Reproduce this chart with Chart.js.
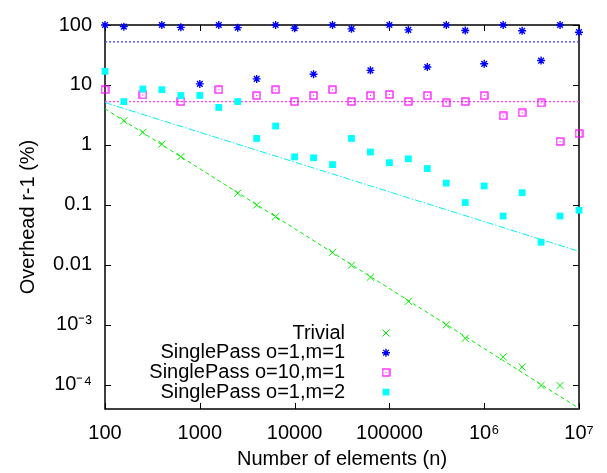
<!DOCTYPE html>
<html>
<head>
<meta charset="utf-8">
<script src="https://cdn.jsdelivr.net/npm/chart.js@4.4.1/dist/chart.umd.min.js"></script>
<style>
  html, body { margin: 0; padding: 0; background: #fff; }
</style>
</head>
<body>
<canvas id="myChart" width="607" height="473"></canvas>
<script>
// x = number of elements, y = overhead r-1 (%)
const seriesNames = ['Trivial', 'SinglePass o=1,m=1', 'SinglePass o=10,m=1', 'SinglePass o=1,m=2'];

const trivialN = [158, 251, 398, 631, 2512, 3981, 6310, 25119, 39811, 63096, 158489, 398107, 630957, 1584893, 2511886, 3981072, 6309573];
const trivialY = [2.53, 1.62, 1.03, 0.637, 0.156, 0.099, 0.0633, 0.0161, 0.0098, 0.0062, 0.00245, 0.00099, 0.00059, 0.00029, 0.000196, 0.0000966, 0.0000966];

const sp11N = [100, 158, 398, 631, 1000, 1585, 2512, 3981, 6310, 10000, 15849, 25119, 39811, 63096, 100000, 158489, 251189, 398107, 630957, 1000000, 1584893, 2511886, 3981072, 6309573, 10000000];
const sp11Y = [100, 93.9, 100, 91.4, 10.4, 100, 90.4, 12.6, 100, 88.1, 15.1, 100, 86.2, 17.5, 100, 83.0, 19.9, 100, 80.9, 22.5, 100, 80.0, 25.5, 100, 75.9];

const sp101N = [100, 251, 631, 1585, 3981, 6310, 10000, 15849, 25119, 39811, 63096, 100000, 158489, 251189, 398107, 630957, 1000000, 1584893, 2511886, 3981072, 6309573, 10000000];
const sp101Y = [8.33, 6.8, 5.27, 8.33, 6.66, 8.33, 5.27, 6.66, 8.33, 5.27, 6.66, 6.92, 5.27, 6.66, 5.0, 5.27, 6.66, 3.05, 3.41, 5.0, 1.14, 1.54];

const sp12N = [100, 158, 251, 398, 631, 1000, 1585, 2512, 3981, 6310, 10000, 15849, 25119, 39811, 63096, 100000, 158489, 251189, 398107, 630957, 1000000, 1584893, 2511886, 3981072, 6309573, 10000000];
const sp12Y = [16.9, 5.27, 8.55, 8.33, 6.66, 6.66, 4.21, 5.27, 1.28, 2.06, 0.63, 0.607, 0.468, 1.28, 0.759, 0.504, 0.585, 0.403, 0.230, 0.109, 0.206, 0.0649, 0.159, 0.0237, 0.0649, 0.0811];

// fitted lines, end points at n=100 and n=1e7
const fitN = [100, 10000000];
const trivialFit = [4, 0.00004];
const sp11Fit = [52.3, 52.3];
const sp101Fit = [5.27, 5.27];
const sp12Fit = [5.08, 0.0167];

const xTicks = [100, 1000, 10000, 100000, 1000000, 10000000];
const xTickLabels = ['100', '1000', '10000', '100000', '10\u2076', '10\u2077'];
const yTicks = [100, 10, 1, 0.1, 0.01, 0.001, 0.0001];
const yTickLabels = ['100', '10', '1', '0.1', '0.01', '10\u207B\u00B3', '10\u207B\u2074'];

const font = "'Liberation Sans', Arial, Helvetica, sans-serif";

function pts(xs, ys) {
	return xs.map((x, i) => ({ x: x, y: ys[i] }));
}

// open square with a dot in the middle
const boxDot = document.createElement('canvas');
boxDot.width = 9;
boxDot.height = 9;
(function () {
	const c = boxDot.getContext('2d');
	c.strokeStyle = '#ff00ff';
	c.lineWidth = 1.2;
	c.strokeRect(1, 1, 7, 7);
	c.fillStyle = '#ff00ff';
	c.fillRect(4, 4, 1, 1);
})();

const marks = [
	{ style: 'crossRot', color: '#00ee00', radius: 5, width: 1 },
	{ style: 'star', color: '#0000ff', radius: 4, width: 1.4 },
	{ style: boxDot, color: '#ff00ff', radius: 5, width: 1 },
	{ style: 'rect', color: '#00ffff', radius: 4.8, width: 0 },
];

function pointSet(i, data, order) {
	const m = marks[i];
	return {
		label: seriesNames[i],
		data: data,
		showLine: false,
		pointStyle: m.style,
		pointRadius: m.radius,
		pointBorderWidth: m.width,
		borderColor: m.color,
		backgroundColor: m.color,
		order: order,
		clip: false,
	};
}

function fitSet(color, data, dash, width, order) {
	return {
		data: data,
		showLine: true,
		pointRadius: 0,
		borderColor: color,
		borderWidth: width,
		borderDash: dash,
		fill: false,
		order: order,
	};
}

const frame = {
	id: 'frame',
	beforeDatasetsDraw(chart) {
		const { ctx, chartArea: a, scales } = chart;
		ctx.save();
		ctx.strokeStyle = '#000';
		ctx.lineWidth = 1;
		ctx.beginPath();
		xTicks.forEach((v) => {
			const px = Math.round(scales.x.getPixelForValue(v)) + 0.5;
			ctx.moveTo(px, a.bottom);
			ctx.lineTo(px, a.bottom - 6);
			ctx.moveTo(px, a.top);
			ctx.lineTo(px, a.top + 6);
		});
		yTicks.forEach((v) => {
			const py = Math.round(scales.y.getPixelForValue(v)) + 0.5;
			ctx.moveTo(a.left, py);
			ctx.lineTo(a.left + 6, py);
			ctx.moveTo(a.right, py);
			ctx.lineTo(a.right - 6, py);
		});
		ctx.stroke();
		ctx.lineWidth = 1.5;
		ctx.strokeRect(a.left, a.top, a.right - a.left, a.bottom - a.top);
		ctx.restore();
	},
};

const key = {
	id: 'key',
	afterDatasetsDraw(chart) {
		const ctx = chart.ctx;
		ctx.save();
		ctx.font = '20px ' + font;
		ctx.textAlign = 'right';
		ctx.textBaseline = 'middle';
		seriesNames.forEach((name, i) => {
			const y = 333 + i * 19.7;
			ctx.fillStyle = '#000';
			ctx.fillText(name, 345, y);
			const m = marks[i];
			ctx.fillStyle = m.color;
			ctx.strokeStyle = m.color;
			ctx.lineWidth = m.width;
			Chart.helpers.drawPoint(ctx, { pointStyle: m.style, radius: m.radius, borderWidth: m.width, rotation: 0 }, 386, y);
		});
		ctx.restore();
	},
};

const ctx = document.getElementById('myChart').getContext('2d');
const myChart = new Chart(ctx, {
	type: 'scatter',
	data: {
		datasets: [
			pointSet(3, pts(sp12N, sp12Y), 0),
			pointSet(2, pts(sp101N, sp101Y), 1),
			pointSet(1, pts(sp11N, sp11Y), 2),
			pointSet(0, pts(trivialN, trivialY), 3),
			fitSet('#00ee00', pts(fitN, trivialFit), [4, 3], 1, 4),
			fitSet('#4040ff', pts(fitN, sp11Fit), [2, 2], 1.3, 5),
			fitSet('#ff40ff', pts(fitN, sp101Fit), [2, 2], 1.3, 6),
			fitSet('#00f0f0', pts(fitN, sp12Fit), [7, 2, 1.5, 2], 1, 7),
		],
	},
	options: {
		responsive: false,
		animation: false,
		layout: { padding: { left: 0, right: 28, top: 13, bottom: 0 } },
		plugins: {
			legend: { display: false },
			tooltip: { enabled: false },
		},
		scales: {
			x: {
				type: 'logarithmic',
				min: 100,
				max: 10000000,
				afterBuildTicks: (scale) => {
					scale.ticks = xTicks.map((v) => ({ value: v }));
				},
				afterFit: (scale) => {
					scale.height = 64;
				},
				grid: { display: false, drawTicks: false },
				border: { display: false },
				ticks: {
					autoSkip: false,
					maxRotation: 0,
					minRotation: 0,
					padding: 12,
					color: '#000',
					font: { family: font, size: 20 },
					callback: (v, i) => xTickLabels[i],
				},
				title: {
					display: true,
					text: 'Number of elements (n)',
					color: '#000',
					font: { family: font, size: 20 },
					padding: { top: 0, bottom: 2 },
				},
			},
			y: {
				type: 'logarithmic',
				min: 0.0000391,
				max: 100,
				afterBuildTicks: (scale) => {
					scale.ticks = yTicks.map((v) => ({ value: v }));
				},
				afterFit: (scale) => {
					scale.width = 105;
				},
				grid: { display: false, drawTicks: false },
				border: { display: false },
				ticks: {
					autoSkip: false,
					padding: 13,
					color: '#000',
					font: { family: font, size: 20 },
					callback: (v, i) => yTickLabels[i],
				},
				title: {
					display: true,
					text: 'Overhead r-1 (%)',
					color: '#000',
					font: { family: font, size: 20 },
					padding: { top: 16, bottom: 0 },
				},
			},
		},
	},
	plugins: [frame, key],
});
</script>
</body>
</html>
